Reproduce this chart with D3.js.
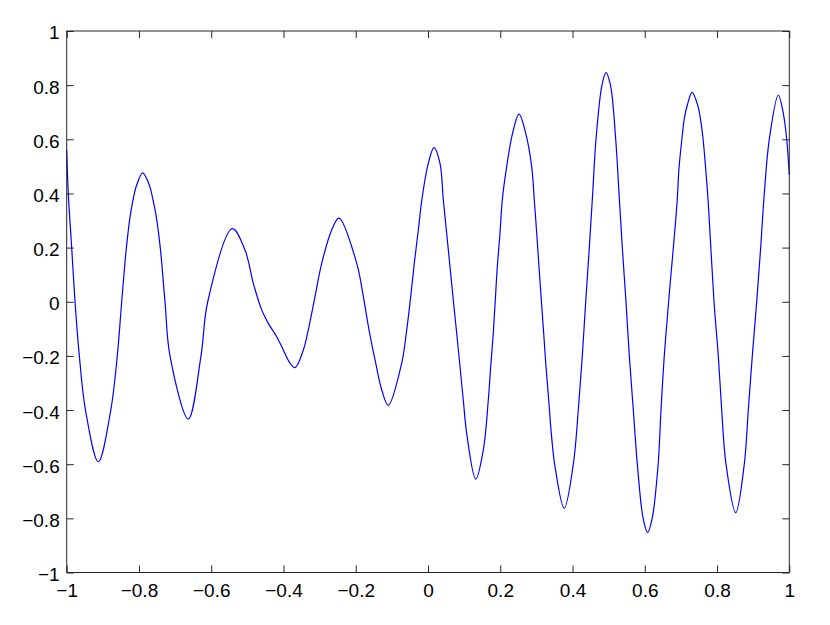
<!DOCTYPE html>
<html>
<head>
<meta charset="utf-8">
<style>
  body { margin: 0; background: #fff; }
  svg { display: block; }
  .tick text { font-family: "Liberation Sans", Arial, sans-serif; font-size: 19px; fill: #000; }
  .tick line { stroke: #262626; }
</style>
</head>
<body>
<div class="plot"></div>

<script src="https://d3js.org/d3.v7.min.js"></script>
<script>
// values
const xTicks = [-1, -0.8, -0.6, -0.4, -0.2, 0, 0.2, 0.4, 0.6, 0.8, 1];
const xTickLabels = ["\u22121", "\u22120.8", "\u22120.6", "\u22120.4", "\u22120.2", "0", "0.2", "0.4", "0.6", "0.8", "1"];
const yTicks = [-1, -0.8, -0.6, -0.4, -0.2, 0, 0.2, 0.4, 0.6, 0.8, 1];
const yTickLabels = ["\u22121", "\u22120.8", "\u22120.6", "\u22120.4", "\u22120.2", "0", "0.2", "0.4", "0.6", "0.8", "1"];

const curveX = [
  -1, -0.9956, -0.9862, -0.977, -0.965, -0.948, -0.9125,
  -0.878, -0.860, -0.8478, -0.835, -0.8239, -0.8156, -0.8063, -0.7897,
  -0.7713, -0.7621, -0.7528, -0.7408, -0.7279, -0.7141, -0.6634,
  -0.6283, -0.6097, -0.5416,
  -0.5065, -0.4835, -0.4603, -0.442, -0.4188, -0.4005, -0.382, -0.368,
  -0.345, -0.3313, -0.3128, -0.2942, -0.2666, -0.2463,
  -0.1973, -0.179, -0.1633, -0.1447, -0.128, -0.110,
  -0.0728, -0.0589, -0.0479, -0.0379, -0.0268, -0.0158, 0.0008, 0.0166,
  0.0332, 0.0424, 0.0517, 0.0609, 0.0700, 0.0794, 0.0886, 0.0977, 0.1071, 0.1320,
  0.1531, 0.1669, 0.1735, 0.1807, 0.1863, 0.1918, 0.1993, 0.2056, 0.2178, 0.2340, 0.2519,
  0.2705, 0.2870, 0.2942, 0.3009, 0.3072, 0.3136, 0.3202, 0.3266, 0.3341, 0.3413, 0.3515, 0.377,
  0.4022, 0.4160, 0.4271, 0.4365, 0.4465, 0.4558, 0.4650, 0.4815, 0.4927,
  0.5050, 0.5195, 0.5287, 0.5378, 0.5480, 0.5572, 0.5683, 0.5794, 0.5955, 0.608,
  0.6205, 0.6370, 0.6449, 0.6540, 0.6660, 0.6892, 0.6947, 0.7039, 0.7095, 0.7178, 0.7307,
  0.7464, 0.7538, 0.7602, 0.7685, 0.7758, 0.7916, 0.8035, 0.8129, 0.8248, 0.8517,
  0.8754, 0.8865, 0.8976, 0.9098, 0.9208, 0.9308, 0.9446, 0.9696,
  0.9834, 0.9928, 1
];
const curveY = [
  0.56, 0.4, 0.2, 0, -0.2, -0.4, -0.591,
  -0.4, -0.2, 0, 0.197, 0.320, 0.382, 0.431, 0.476,
  0.431, 0.382, 0.320, 0.197, 0, -0.2, -0.433,
  -0.2, 0, 0.270,
  0.191, 0.068, -0.030, -0.080, -0.129, -0.178, -0.227, -0.2435,
  -0.178, -0.104, 0.019, 0.142, 0.265, 0.309,
  0.142, 0.019, -0.104, -0.227, -0.326, -0.3826,
  -0.227, -0.104, 0.019, 0.142, 0.265, 0.388, 0.511, 0.569,
  0.511, 0.376, 0.253, 0.129, 0.0065, -0.1165, -0.240, -0.363, -0.486, -0.655,
  -0.5475, -0.363, -0.240, -0.1165, 0.0065, 0.129, 0.253, 0.376, 0.499, 0.622, 0.693,
  0.622, 0.499, 0.376, 0.253, 0.129, 0.0065, -0.1165, -0.240, -0.363, -0.486, -0.609, -0.763,
  -0.6, -0.4, -0.2, 0, 0.2, 0.4, 0.6, 0.8, 0.846,
  0.8, 0.6, 0.4, 0.2, 0, -0.2, -0.4, -0.6, -0.8, -0.853,
  -0.8, -0.6, -0.4, -0.2, 0, 0.3636, 0.4928, 0.6159, 0.6775, 0.7267, 0.7736,
  0.7267, 0.6775, 0.6159, 0.4928, 0.3636, 0, -0.2, -0.4, -0.6, -0.779,
  -0.6, -0.4, -0.2, 0, 0.2, 0.4, 0.6, 0.7636,
  0.696, 0.6, 0.468
];

const width = 830;
const height = 625;
const margin = {top: 31, right: 40.7, bottom: 52.5, left: 66.7};
const innerW = width - margin.left - margin.right;
const innerH = height - margin.top - margin.bottom;
const tickLen = 7;

const x = d3.scaleLinear().domain([-1, 1]).range([0, innerW]);
const y = d3.scaleLinear().domain([-1, 1]).range([innerH, 0]);

const svg = d3.select(".plot")
  .append("svg")
    .attr("width", width)
    .attr("height", height);

const g = svg.append("g")
    .attr("transform", `translate(${margin.left},${margin.top})`);

// line
const pts = curveX.map((d, i) => [d, curveY[i]]);
const line = d3.line()
    .x(d => x(d[0]))
    .y(d => y(d[1]))
    .curve(d3.curveCatmullRom.alpha(0.5));

g.append("path")
    .datum(pts)
    .attr("d", line)
    .attr("fill", "none")
    .attr("stroke", "#0000ff")
    .attr("stroke-width", 1.2);

// axes, ticks pointing inward on all four sides
const fmtX = d => xTickLabels[xTicks.indexOf(d)];
const fmtY = d => yTickLabels[yTicks.indexOf(d)];

g.append("g")
    .attr("transform", `translate(0,${innerH})`)
    .call(d3.axisBottom(x).tickValues(xTicks).tickFormat(fmtX).tickSizeInner(-tickLen).tickSizeOuter(0).tickPadding(11))
    .call(a => a.select(".domain").remove());

g.append("g")
    .call(d3.axisTop(x).tickValues(xTicks).tickFormat("").tickSizeInner(-tickLen).tickSizeOuter(0))
    .call(a => a.select(".domain").remove());

g.append("g")
    .call(d3.axisLeft(y).tickValues(yTicks).tickFormat(fmtY).tickSizeInner(-tickLen).tickSizeOuter(0).tickPadding(7))
    .call(a => a.select(".domain").remove())
    .selectAll("text").attr("dy", "0.42em");

g.append("g")
    .attr("transform", `translate(${innerW},0)`)
    .call(d3.axisRight(y).tickValues(yTicks).tickFormat("").tickSizeInner(-tickLen).tickSizeOuter(0))
    .call(a => a.select(".domain").remove());

g.selectAll(".tick text").attr("font-family", null).attr("font-size", null);

// box
g.append("rect")
    .attr("x", 0)
    .attr("y", 0)
    .attr("width", innerW)
    .attr("height", innerH)
    .attr("fill", "none")
    .attr("stroke", "#262626")
    .attr("stroke-width", 1);
</script>
</body>
</html>
